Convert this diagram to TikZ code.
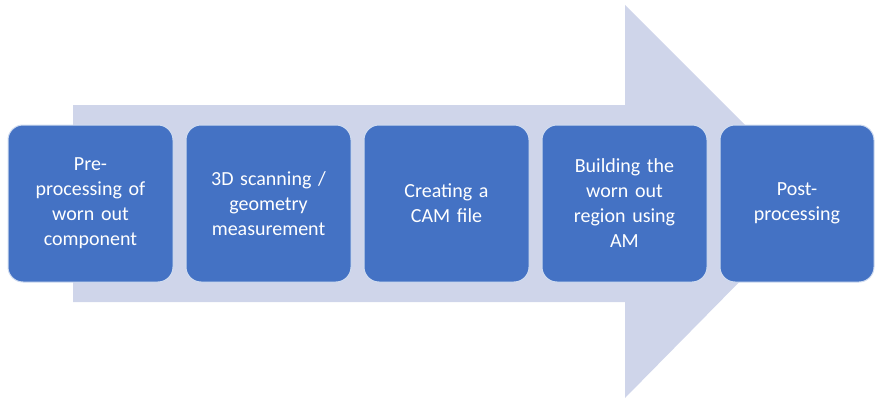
\documentclass[tikz,border=0pt]{standalone}
\usepackage{fontspec}
\setmainfont{Carlito}
\usepackage{tikz}
\usetikzlibrary{positioning}
\definecolor{stageblue}{HTML}{4472C4}
\definecolor{flowgrey}{HTML}{CFD5EA}
\tikzset{
  stage/.style ={draw=white!75!stageblue,line width=1pt,fill=stageblue,rounded corners=15pt,
                 minimum width=165pt,minimum height=157pt,text width=150pt,align=center,
                 inner sep=0pt,text=white,font=\fontsize{20}{25}\selectfont},
  flow/.style  ={fill=flowgrey},
}
\begin{document}
\begin{tikzpicture}[x=1pt,y=1pt,node distance=12pt]
  \useasboundingbox (0,0) rectangle (876,400);
  % background process arrow
  \coordinate (tip) at (820,200);
  \fill[flow] (73,98) -- (73,295) -- (625,295) -- (625,395) -- (tip)
    -- (625,2) -- (625,98) -- cycle;
  % stages
  \node[stage] (pre) at (90.5,196.5) {Pre-\\processing of\\worn out\\component};
  \node[stage,right=of pre] (scan) {3D scanning /\\geometry\\measurement};
  \node[stage,right=of scan] (cam) {Creating a\\CAM file};
  \node[stage,right=of cam] (build) {Building the\\worn out\\region using\\AM};
  \node[stage,right=of build,minimum width=154pt,text width=140pt] (post) {Post-\\processing};
\end{tikzpicture}
\end{document}
